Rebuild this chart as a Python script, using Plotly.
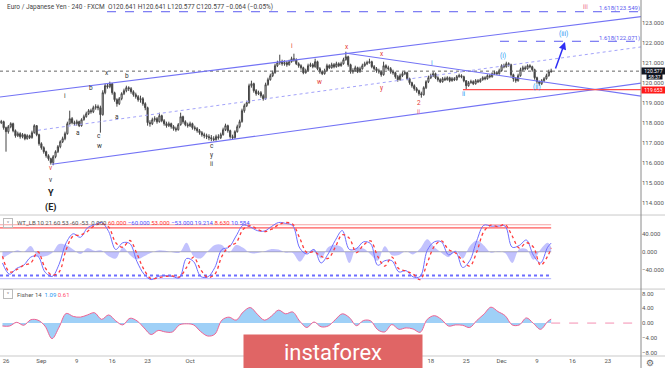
import pandas as pd
import plotly.graph_objects as go
from plotly.subplots import make_subplots

# ---------------- DATA ----------------
first_open = 118.10
closes = [
118.00,118.05,117.75, 117.55,117.80,117.95, 117.60,117.35,117.45, 117.30,117.40,117.20, 117.35,117.25,117.50,
117.85,117.40,116.95, 116.75,116.55,116.35, 116.20,116.00,116.30, 116.55,116.80,117.05, 117.20,117.45,117.95,
118.20,118.00,117.95, 118.05,117.85,118.15, 118.30,118.45,118.60, 118.55,118.75,118.80, 118.75,118.40,119.50,
119.85,119.80,119.95, 119.50,119.15,118.95, 119.20,119.45,119.60, 119.75,119.70,119.55, 119.40,119.30,119.15,
119.20,118.95,118.75, 118.00,117.95,118.15, 118.20,118.05,118.35, 118.10,117.95,117.85, 117.95,117.80,117.70,
117.65,117.90,118.30, 118.05,117.90,117.85, 117.95,117.75,117.70, 117.60,117.50,117.40, 117.35,117.30,117.25,
117.20,117.15,117.30, 117.25,117.40,117.65, 117.85,117.60,117.30, 117.25,117.55,117.80, 118.05,118.60,118.85,
119.00,119.85,119.95, 119.60,119.45,119.50, 119.35,119.20,119.90, 120.15,120.35,120.50, 120.85,121.00,121.05,
120.95,121.00,120.90, 121.05,121.20,121.15, 120.95,120.85,120.75, 120.50,120.60,120.85, 120.90,120.80,121.05,
120.70,120.55,120.45, 120.60,120.85,120.75, 120.90,120.80,120.95, 120.85,120.95,121.15, 121.30,120.90,120.55,
120.60,120.75,120.55, 120.70,120.85,120.95, 121.00,121.05,120.80, 120.70,120.60,120.55, 120.40,120.85,120.75,
120.70,120.55,120.50, 120.30,120.15,120.35, 120.45,120.50,120.20, 120.00,119.85,119.70, 119.60,119.45,119.40,
119.75,120.05,120.25, 120.35,120.45,120.25, 120.15,120.05,120.20, 120.15,120.25,120.10, 120.20,120.15,120.30,
120.35,120.30,120.10, 119.85,120.00,120.05, 119.95,120.10,120.05, 120.15,120.25,120.20, 120.35,120.30,120.45,
120.50,120.45,120.60, 120.85,120.80,120.95, 120.90,120.40,120.20, 120.10,120.35,120.65, 120.75,120.70,120.85,
120.80,120.65,120.25, 120.05,119.95,120.10, 120.20,120.35,120.55, 120.577,
]
highs = [
118.18,118.14,118.10, 117.80,117.88,118.02, 118.00,117.66,117.55, 117.52,117.48,117.45, 117.42,117.40,117.60,
117.92,117.88,117.45, 117.02,116.82,116.60, 116.42,116.25,116.38, 116.62,116.88,117.12, 117.30,117.55,118.05,
118.60,118.28,118.10, 118.15,118.10,118.22, 118.40,118.55,118.68, 118.70,118.85,118.92, 118.90,118.85,119.62,
119.95,119.98,120.05, 119.98,119.55,119.22, 119.28,119.52,119.70, 119.85,119.82,119.78, 119.62,119.50,119.38,
119.35,119.28,119.02, 118.80,118.12,118.25, 118.32,118.28,118.50, 118.40,118.18,118.05, 118.05,118.00,117.88,
117.80,117.98,118.50, 118.35,118.12,118.00, 118.05,118.00,117.85, 117.78,117.68,117.58, 117.50,117.45,117.42,
117.38,117.32,117.40, 117.42,117.50,117.75, 117.95,117.90,117.65, 117.40,117.62,117.90, 118.15,118.70,118.95,
119.10,119.95,120.10, 120.00,119.68,119.60, 119.58,119.42,120.00, 120.25,120.45,120.60, 120.95,121.10,121.40,
121.15,121.12,121.08, 121.15,121.30,121.45, 121.22,121.02,120.92, 120.80,120.70,120.95, 121.00,120.98,121.20,
121.10,120.78,120.62, 120.70,120.95,120.92, 121.00,120.98,121.05, 121.02,121.05,121.25, 121.55,121.35,120.95,
120.72,120.85,120.80, 120.80,120.95,121.05, 121.10,121.20,121.10, 120.88,120.78,120.70, 120.62,121.05,120.92,
120.85,120.78,120.65, 120.55,120.38,120.45, 120.55,120.60,120.55, 120.25,120.05,119.92, 119.78,119.65,119.55,
119.82,120.12,120.35, 120.45,120.55,120.50, 120.32,120.22,120.28, 120.30,120.32,120.30, 120.28,120.28,120.38,
120.45,120.42,120.35, 120.12,120.08,120.15, 120.12,120.18,120.18, 120.22,120.32,120.32, 120.42,120.42,120.52,
120.60,120.58,120.70, 120.92,120.95,121.05, 121.02,120.95,120.45, 120.28,120.45,120.75, 120.85,120.85,120.92,
120.92,120.85,120.70, 120.30,120.10,120.18, 120.28,120.45,120.65, 120.70,
]
lows = [
117.92,117.93,117.65, 116.55,117.45,117.72, 117.52,117.25,117.28, 117.20,117.22,117.12, 117.15,117.18,117.20,
117.45,117.32,116.85, 116.65,116.45,116.25, 116.10,115.90,115.87, 116.22,116.48,116.72, 116.98,117.12,117.40,
117.90,117.92,117.85, 117.85,117.78,117.80, 118.10,118.25,118.38, 118.45,118.48,118.65, 118.62,117.50,118.35,
119.42,119.70,119.72, 119.40,119.05,118.80, 118.88,119.12,119.38, 119.52,119.58,119.45, 119.30,119.20,119.05,
119.00,118.85,118.62, 117.85,117.80,117.88, 118.05,117.95,118.00, 118.02,117.85,117.75, 117.78,117.70,117.60,
117.55,117.60,117.85, 117.95,117.82,117.75, 117.78,117.65,117.60, 117.50,117.40,117.30, 117.22,117.18,117.12,
117.07,117.08,117.10, 117.15,117.18,117.35, 117.58,117.50,117.20, 117.15,117.20,117.50, 117.72,118.00,118.50,
118.78,118.95,119.75, 119.50,119.35,119.38, 119.25,119.10,119.15, 119.85,120.10,120.28, 120.45,120.78,120.90,
120.85,120.85,120.80, 120.85,121.00,121.05, 120.88,120.75,120.65, 120.42,120.45,120.55, 120.78,120.72,120.75,
120.62,120.45,120.38, 120.40,120.55,120.68, 120.70,120.72,120.75, 120.78,120.80,120.90, 121.10,120.80,120.45,
120.45,120.55,120.48, 120.50,120.65,120.80, 120.88,120.95,120.72, 120.62,120.50,120.45, 120.30,120.35,120.65,
120.60,120.45,120.40, 120.20,120.05,120.10, 120.28,120.38,120.12, 119.90,119.75,119.60, 119.50,119.35,119.25,
119.35,119.68,119.98, 120.18,120.28,120.18, 120.05,119.98,120.00, 120.08,120.10,120.02, 120.05,120.08,120.10,
120.25,120.22,120.02, 119.65,119.80,119.95, 119.88,119.90,119.98, 120.00,120.10,120.12, 120.15,120.22,120.25,
120.38,120.38,120.40, 120.55,120.72,120.75, 120.80,120.30,120.05, 120.00,120.05,120.30, 120.58,120.62,120.65,
120.72,120.55,120.15, 119.95,119.85,119.88, 120.02,120.15,120.30, 120.50,
]

# WT_LB oscillator (one value per trading day, last = current bar)
wt1 = [-25,-50,-37,-30,-12,-10,-45,-55,-28,20,40,32,53,60,65,45,5,20,18,-22,-50,-62,-55,-53,-55,-58,-15,-22,-55,-56,
       -35,5,10,35,59,55,47,46,56,65,63,58,8,-5,5,-25,-5,25,47,5,7,22,18,-30,-20,-20,-45,-42,-56,-55,3,22,22,-7,0,
       -35,-20,25,59,57,57,57,10,14,26,-8,-25,10,19.214]
wt2 = [-10,-45,-40,-30,-25,0,-35,-52,-45,5,35,37,45,58,62,55,20,10,25,-5,-40,-60,-58,-55,-54,-56,-35,-12,-40,-57,
       -50,-10,12,20,50,58,50,45,50,60,65,61,30,-2,0,-10,-15,10,38,30,-2,15,24,-10,-32,-12,-38,-43,-50,-62,-25,12,24,5,-3,
       -20,-32,0,45,59,56,60,35,8,20,10,-30,-10,8.63]
# Fisher 14
fisher = [-0.8,-0.8,0.2,-0.6,0.9,0.8,-0.8,-4.2,-1.1,2.6,1.8,1.6,2.2,2.8,1.0,2.2,0.6,-0.5,1.3,0.6,
          -1.3,-3.1,-2.0,-2.4,-2.4,-0.5,-0.2,-0.5,-2.3,-3.5,-3.0,0.8,1.6,0.8,3.0,4.2,2.4,0.8,1.9,3.5,
          2.5,3.0,0.5,-1.2,0.3,-1.0,-0.8,0.9,2.5,1.5,-0.7,0.7,0.6,-1.8,-2.4,-0.4,-1.7,-1.3,-1.6,-2.5,
          1.0,2.0,1.0,-0.8,-0.5,-0.6,-1.2,0.7,2.4,4.3,3.1,2.0,-0.5,-0.5,1.4,-0.1,-1.7,0.4,1.09]

tick_dates = ["2019-08-26","2019-09-02","2019-09-09","2019-09-16","2019-09-23","2019-10-01",
              "2019-11-18","2019-11-25","2019-12-02","2019-12-09","2019-12-16","2019-12-23"]
tick_labels = ["26","Sep","9","16","23","Oct","18","25","Dec","9","16","23"]

price_ticks = [114,115,116,117,118,119,120,121,122,123,124]
last_price = 120.577
support_level = 119.653
fib_hi = 123.549
fib_lo = 122.071
wt_levels = [60, 53, -53, -60, 0]

# analyst drawings: (start time, start price, end time, end price)
upper_line = ("2019-08-23 03:40", 119.285, "2019-12-31 00:00", 123.45)
middle_line = ("2019-08-30 12:30", 117.62, "2019-12-31 00:00", 121.95)
lower_line = ("2019-09-03 12:00", 115.92, "2019-12-31 00:00", 120.14)
down_line = ("2019-10-30 21:00", 121.485, "2019-12-31 00:00", 119.16)
support_start = "2019-11-22 13:00"
fib_hi_start = "2019-09-13 06:30"
fib_lo_start = "2019-11-29 18:30"
arrow = ("2019-12-11 13:00", 120.635, "2019-12-12 23:00", 122.035)

# wave labels: (text, time, price, colour key)
waves = [
    ("i", "2019-09-05 08:00", 119.34, "k"), ("b", "2019-09-10 23:00", 119.75, "k"),
    ("x", "2019-09-13 05:00", 120.47, "k"), ("b", "2019-09-18 01:00", 120.35, "k"),
    ("a", "2019-09-09 05:00", 117.47, "k"), ("c", "2019-09-12 04:00", 117.34, "k"),
    ("w", "2019-09-12 06:00", 116.85, "k"), ("a", "2019-09-16 17:00", 118.30, "k"),
    ("v", "2019-09-03 07:30", 115.72, "r"), ("v", "2019-09-03 07:30", 115.13, "k"),
    ("c", "2019-10-04 01:00", 116.84, "k"), ("y", "2019-10-04 01:00", 116.36, "k"),
    ("ii", "2019-10-04 01:00", 115.94, "k"),
    ("i", "2019-10-21 08:00", 121.84, "r"), ("x", "2019-10-31 03:00", 121.80, "r"),
    ("w", "2019-10-25 08:00", 120.02, "r"), ("x", "2019-11-07 02:00", 121.43, "r"),
    ("y", "2019-11-07 02:00", 119.75, "r"), ("2", "2019-11-14 09:00", 118.97, "r"),
    ("ii", "2019-11-14 09:00", 118.52, "p"), ("iii", "2019-12-17 19:00", 123.80, "p"),
    ("i", "2019-11-18 03:00", 120.97, "b"), ("ii", "2019-11-22 17:30", 119.42, "b"),
    ("(i)", "2019-12-02 06:00", 121.34, "b"), ("(ii)", "2019-12-06 23:00", 119.77, "b"),
    ("(iii)", "2019-12-12 17:00", 122.42, "b"),
]
big_labels = [("Y", "2019-09-03 07:30", 114.50), ("(E)", "2019-09-03 07:30", 113.75)]
fib_labels = [("1.618(123.549)", "2019-12-24 17:00", 123.72), ("1.618(122.071)", "2019-12-24 17:00", 122.25)]

# ---------------- BUILD ----------------
days = pd.bdate_range("2019-08-23", "2019-12-11")
bar_times = [d + pd.Timedelta(hours=h) for d in days for h in (0, 8, 16)][:len(closes)]
opens = [first_open] + closes[:-1]
ind_times = [d + pd.Timedelta(hours=12) for d in days[:-1]] + [days[-1]]
hist = [a - b for a, b in zip(wt1, wt2)]

FONT = "Roboto"
TXT = "#555"
x_start, x_end = "2019-08-23 03:40", "2019-12-27 16:35"
x_far = "2019-12-31"

fig = make_subplots(rows=3, cols=1, shared_xaxes=True, vertical_spacing=0)

fig.add_trace(go.Candlestick(
    x=bar_times, open=opens, high=highs, low=lows, close=closes,
    increasing=dict(line=dict(color="#454545", width=1), fillcolor="#ffffff"),
    decreasing=dict(line=dict(color="#454545", width=1), fillcolor="#454545"),
    whiskerwidth=0, hoverinfo="skip"), row=1, col=1)

def seg(t0, p0, t1, p1, color, width=1, dash="solid", row=1):
    fig.add_trace(go.Scatter(x=[t0, t1], y=[p0, p1], mode="lines",
                             line=dict(color=color, width=width, dash=dash), hoverinfo="skip"),
                  row=row, col=1)

BL = "#7373f5"
seg(x_start, last_price, x_far, last_price, "#666", 1, "dot")
seg(*upper_line, BL, 1.1)
seg(*middle_line, "#a3a3fa", 1, "dot")
seg(*lower_line, BL, 1.1)
seg(*down_line, BL, 1.1)
seg(support_start, support_level, x_far, support_level, "#ff4d4d", 1.1)
seg(fib_hi_start, fib_hi, x_far, fib_hi, "#5b5bf0", 1, "dash")
seg(fib_lo_start, fib_lo, x_far, fib_lo, "#5b5bf0", 1, "dash")

# WT panel
lvl_style = [("#f6a3a3", 1, "solid"), ("#ff3030", 1, "solid"), ("#6d6dff", 2, "dot"),
             ("#b3b3ff", 1, "solid"), ("#b0b0b0", 1.2, "solid")]
for lvl, (col, w, d) in zip(wt_levels, lvl_style):
    seg(x_start, lvl, ind_times[-1], lvl, col, w, d, row=2)
fig.add_trace(go.Scatter(x=ind_times, y=hist, mode="lines", line=dict(width=0, shape="spline"),
                         fill="tozeroy", fillcolor="rgba(120,120,250,0.45)", hoverinfo="skip"), row=2, col=1)
fig.add_trace(go.Scatter(x=ind_times, y=wt1, mode="lines", line=dict(color="#6f6fff", width=1, shape="spline"),
                         hoverinfo="skip"), row=2, col=1)
fig.add_trace(go.Scatter(x=ind_times, y=wt2, mode="lines",
                         line=dict(color="#ff3b3b", width=1.3, dash="dot", shape="spline"),
                         hoverinfo="skip"), row=2, col=1)

# Fisher panel
fig.add_trace(go.Scatter(x=ind_times, y=fisher, mode="lines", line=dict(color="#f06292", width=1, shape="spline"),
                         fill="tozeroy", fillcolor="rgba(80,170,240,0.55)", hoverinfo="skip"), row=3, col=1)
seg(ind_times[-1], 0, x_far, 0, "#f48fb1", 1, "dash", row=3)

# axes
for r in (1, 2, 3):
    fig.update_xaxes(row=r, col=1, type="date", range=[x_start, x_end],
                     rangebreaks=[dict(bounds=["sat", "mon"])], showgrid=False, zeroline=False,
                     rangeslider_visible=False, showticklabels=(r == 3), ticks="",
                     tickvals=tick_dates, ticktext=tick_labels,
                     tickfont=dict(family=FONT, size=6, color=TXT))
fig.update_yaxes(row=1, col=1, range=[113.435, 124.135], side="right", tickvals=price_ticks,
                 tickformat=".3f")
fig.update_yaxes(row=2, col=1, range=[-80.7, 79.3], side="right", tickvals=[-40, 0, 40],
                 ticktext=["\u221240.000", "0.000", "40.000"])
fig.update_yaxes(row=3, col=1, range=[-8.9, 8.9], side="right", tickvals=[-8, -4, 0, 4, 8],
                 ticktext=["\u22128.00", "\u22124.00", "0.00", "4.00", "8.00"])
fig.update_yaxes(showgrid=False, zeroline=False, ticks="", tickfont=dict(family=FONT, size=6, color=TXT))
fig.update_layout(yaxis=dict(domain=[0.399, 1.0]), yaxis2=dict(domain=[0.191, 0.393]),
                  yaxis3=dict(domain=[0.0, 0.185]))

# labels
COL = {"k": "#333333", "r": "#e53935", "p": "#ec5f8a", "b": "#2196f3"}
ann = []
for t, tm, p, c in waves:
    ann.append(dict(x=tm, y=p, xref="x", yref="y", text=t, showarrow=False,
                    font=dict(family=FONT, size=6.5, color=COL[c])))
for t, tm, p in big_labels:
    ann.append(dict(x=tm, y=p, xref="x", yref="y", text="<b>%s</b>" % t, showarrow=False,
                    font=dict(family=FONT, size=9, color="#222")))
for t, tm, p in fib_labels:
    ann.append(dict(x=tm, y=p, xref="x", yref="y", text=t, showarrow=False,
                    font=dict(family=FONT, size=6, color="#5b5bf0")))
ann.append(dict(x=arrow[2], y=arrow[3], ax=arrow[0], ay=arrow[1], xref="x", yref="y",
                axref="x", ayref="y", text="", showarrow=True, arrowhead=2, arrowsize=1,
                arrowwidth=1.5, arrowcolor="#2f2ff5"))
# price axis tags
tag_font = dict(family=FONT, size=5, color="white")
ann.append(dict(x=1, y=last_price, xref="paper", yref="y", xanchor="left", text="120.577", showarrow=False,
                bgcolor="#131722", font=tag_font, borderpad=0, width=23, height=5.5))
ann.append(dict(x=1.0211, y=120.305, xref="paper", yref="y", xanchor="center", text="58:37", showarrow=False,
                bgcolor="#131722", font=tag_font, borderpad=0, width=15, height=5))
ann.append(dict(x=1, y=support_level, xref="paper", yref="y", xanchor="left", text="119.653", showarrow=False,
                bgcolor="#ff1a1a", font=tag_font, borderpad=0, width=23, height=5.5))
# headers
ann.append(dict(x=0.008, y=0.981, xref="paper", yref="paper", xanchor="left", yanchor="middle", showarrow=False,
                text="Euro / Japanese Yen \u00b7 240 \u00b7 FXCM  O120.641 H120.641 L120.577 C120.577 \u22120.064 (\u22120.05%)",
                font=dict(family=FONT, size=6.5, color="#444")))
wt_head = ('WT_LB 10 21 60 53 -60 -53  0.000 <span style="color:#ff3030">60.000</span> '
           '<span style="color:#4d4dff">\u221260.000</span> <span style="color:#ff3030">53.000</span> '
           '<span style="color:#4d4dff">\u221253.000</span> <span style="color:#4d4dff">19.214</span> '
           '<span style="color:#ff3030">8.630</span> <span style="color:#4d4dff">10.584</span>')
ann.append(dict(x=0.024, y=0.374, xref="paper", yref="paper", xanchor="left", yanchor="middle", showarrow=False,
                text=wt_head, font=dict(family=FONT, size=6, color="#555")))
ann.append(dict(x=0.024, y=0.173, xref="paper", yref="paper", xanchor="left", yanchor="middle", showarrow=False,
                text='Fisher 14  <span style="color:#2196f3">1.09</span> <span style="color:#ff4d6d">0.61</span>',
                font=dict(family=FONT, size=6, color="#555")))
for yy in (0.374, 0.173):
    ann.append(dict(x=0.013, y=yy, xref="paper", yref="paper", xanchor="center", yanchor="middle",
                    showarrow=False, text="\u02c5", bordercolor="#bbb", borderwidth=1, borderpad=0,
                    width=8, height=8, font=dict(family="DejaVu Sans", size=6, color="#555")))
ann.append(dict(x=1.0140, y=-0.020, xref="paper", yref="paper", xanchor="center", yanchor="middle",
                showarrow=False, text="\u2699", font=dict(family="DejaVu Sans", size=9, color="#666")))
# watermark
ann.append(dict(x=0.5195, y=0.011, xref="paper", yref="paper", xanchor="center", yanchor="middle",
                showarrow=False, text="instaforex", bgcolor="#e06565", width=176, height=32,
                font=dict(family="Roboto", size=22, color="white")))

shapes = []
for yy in (0.396, 0.188, 0.0):
    shapes.append(dict(type="line", xref="paper", yref="paper", x0=0, x1=1.0375, y0=yy, y1=yy,
                       line=dict(color="#c9c9c9", width=1)))
shapes.append(dict(type="line", xref="paper", yref="paper", x0=1, x1=1, y0=-0.034, y1=1,
                   line=dict(color="#8a8a8a", width=1)))

fig.update_layout(width=665, height=368, margin=dict(l=0, r=24, t=0, b=12),
                  paper_bgcolor="white", plot_bgcolor="white", showlegend=False,
                  annotations=ann, shapes=shapes, font=dict(family=FONT))
fig.write_html("out.html", config={"displayModeBar": False, "staticPlot": True},
               post_script="document.body.style.margin='0';document.body.style.padding='0';"
                           "document.body.style.overflow='hidden';")
